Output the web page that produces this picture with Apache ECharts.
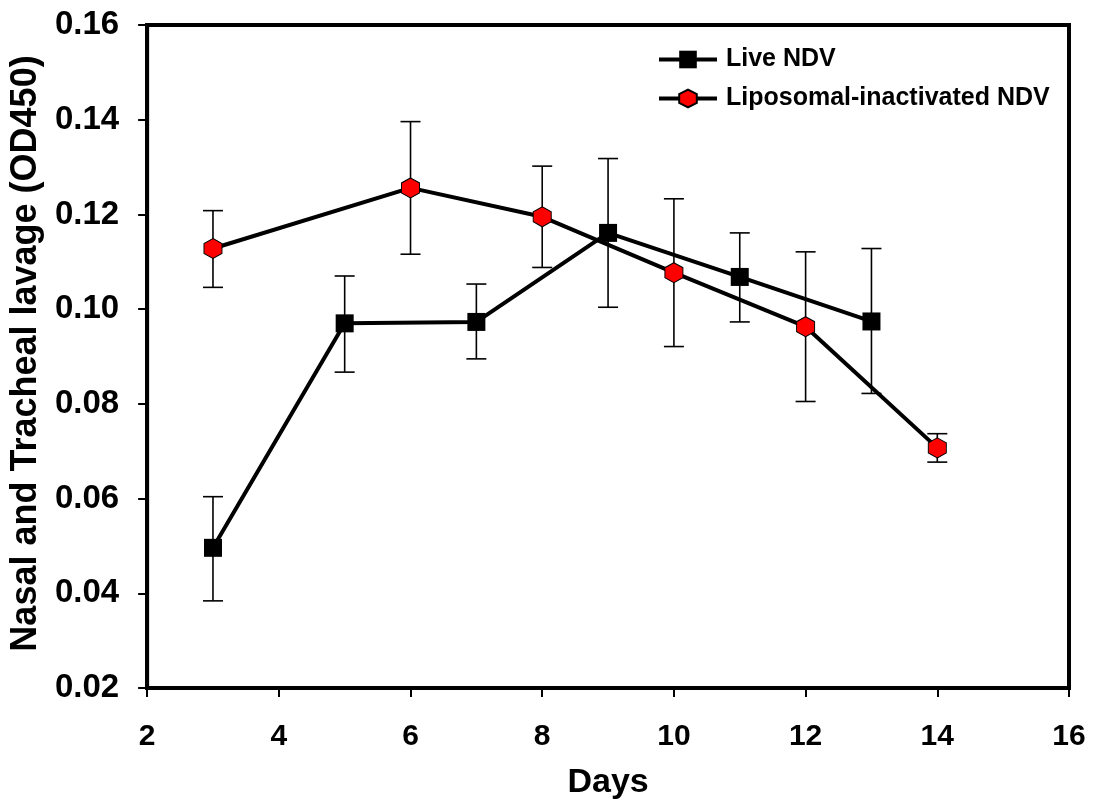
<!DOCTYPE html>
<html>
<head>
<meta charset="utf-8">
<script src="https://cdn.jsdelivr.net/npm/echarts@6/dist/echarts.min.js"></script>
<style>html,body{margin:0;padding:0;background:#fff}#c{width:1095px;height:805px}</style>
</head>
<body>
<div id="c"></div>
<script>
const liveDays = [3, 5, 7, 9, 11, 13];
const liveMean = [0.0496, 0.0970, 0.0973, 0.1161, 0.1068, 0.0974];
const liveLow  = [0.0384, 0.0867, 0.0895, 0.1004, 0.0973, 0.0822];
const liveHigh = [0.0604, 0.1070, 0.1053, 0.1318, 0.1161, 0.1128];

const lipoDays = [3, 6, 8, 10, 12, 14];
const lipoMean = [0.1128, 0.1256, 0.1195, 0.1077, 0.0963, 0.0707];
const lipoLow  = [0.1046, 0.1116, 0.1088, 0.0921, 0.0805, 0.0677];
const lipoHigh = [0.1208, 0.1396, 0.1302, 0.1233, 0.1121, 0.0737];

const xTicks = [2, 4, 6, 8, 10, 12, 14, 16];
const yTicks = [0.02, 0.04, 0.06, 0.08, 0.10, 0.12, 0.14, 0.16];

const hexPath = 'path://M0,-1 L0.866,-0.5 L0.866,0.5 L0,1 L-0.866,0.5 L-0.866,-0.5 Z';
const FONT = 'Arial, "Liberation Sans", sans-serif';

function errData(days, lo, hi) {
  return days.map((d, i) => [d, lo[i], hi[i]]);
}
function errRender(params, api) {
  const x = api.value(0);
  const top = api.coord([x, api.value(2)]);
  const bot = api.coord([x, api.value(1)]);
  const hw = 10;
  const st = { stroke: '#000', lineWidth: 1.6, fill: null };
  return {
    type: 'group',
    children: [
      { type: 'line', shape: { x1: top[0], y1: top[1], x2: bot[0], y2: bot[1] }, style: st },
      { type: 'line', shape: { x1: top[0] - hw, y1: top[1], x2: top[0] + hw, y2: top[1] }, style: st },
      { type: 'line', shape: { x1: bot[0] - hw, y1: bot[1], x2: bot[0] + hw, y2: bot[1] }, style: st }
    ]
  };
}

const chart = echarts.init(document.getElementById('c'), null, { renderer: 'canvas' });
chart.setOption({
  backgroundColor: '#fff',
  animation: false,
  grid: { left: 147, right: 26, top: 25, bottom: 116, show: true, borderColor: '#000', borderWidth: 4 },
  legend: {
    left: 652, top: 42, orient: 'vertical', itemWidth: 58, itemHeight: 22, itemGap: 14,
    data: ['Live NDV', 'Liposomal-inactivated NDV'],
    lineStyle: { width: 4 },
    textStyle: { fontFamily: FONT, fontWeight: 'bold', fontSize: 25, color: '#000', padding: [0, 0, 0, 4] }
  },
  xAxis: {
    type: 'value', min: 2, max: 16, interval: 2,
    axisLine: { show: true, lineStyle: { color: '#000', width: 4 } },
    axisTick: { show: true, inside: false, length: 9, lineStyle: { color: '#000', width: 2 } },
    splitLine: { show: false },
    axisLabel: { fontFamily: FONT, fontWeight: 'bold', fontSize: 30, color: '#000', margin: 34,
      formatter: v => xTicks.includes(v) ? String(v) : '' },
    name: 'Days', nameLocation: 'middle', nameGap: 78,
    nameTextStyle: { fontFamily: FONT, fontWeight: 'bold', fontSize: 34, color: '#000' }
  },
  yAxis: {
    type: 'value', min: 0.02, max: 0.16, interval: 0.02,
    axisLine: { show: true, lineStyle: { color: '#000', width: 4 } },
    axisTick: { show: true, inside: false, length: 9, lineStyle: { color: '#000', width: 2 } },
    splitLine: { show: false },
    axisLabel: { fontFamily: FONT, fontWeight: 'bold', fontSize: 33, color: '#000', margin: 28,
      formatter: v => { const t = yTicks.find(k => Math.abs(k - v) < 1e-9); return t === undefined ? '' : t.toFixed(2); } },
    name: 'Nasal and Tracheal lavage (OD450)', nameLocation: 'middle', nameGap: 99,
    nameTextStyle: { fontFamily: FONT, fontWeight: 'bold', fontSize: 36, color: '#000', padding: [0, 0, 0, 6] }
  },
  series: [
    {
      name: 'Live NDV err', type: 'custom', renderItem: errRender, z: 1,
      data: errData(liveDays, liveLow, liveHigh), encode: { x: 0, y: [1, 2] }, silent: true
    },
    {
      name: 'Lipo err', type: 'custom', renderItem: errRender, z: 1,
      data: errData(lipoDays, lipoLow, lipoHigh), encode: { x: 0, y: [1, 2] }, silent: true
    },
    {
      name: 'Live NDV', type: 'line', z: 3,
      data: liveDays.map((d, i) => [d, liveMean[i]]),
      lineStyle: { color: '#000', width: 4 },
      itemStyle: { color: '#000', borderColor: '#000', borderWidth: 0 },
      symbol: 'rect', symbolSize: 18, showSymbol: true
    },
    {
      name: 'Liposomal-inactivated NDV', type: 'line', z: 4,
      data: lipoDays.map((d, i) => [d, lipoMean[i]]),
      lineStyle: { color: '#000', width: 4 },
      itemStyle: { color: '#ff0000', borderColor: '#000', borderWidth: 1 },
      symbol: hexPath, symbolSize: [18, 20], showSymbol: true
    }
  ]
});
</script>
</body>
</html>
